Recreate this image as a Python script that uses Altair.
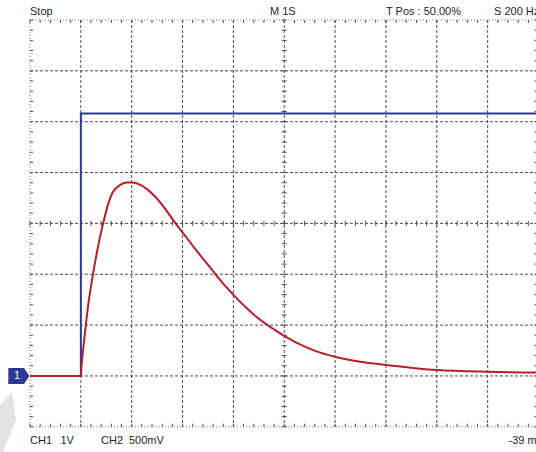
import altair as alt
import pandas as pd
import numpy as np

# CH1 (blue), 1 V/div : time [s], volts
ch1_time = [-5.0, -4.0, -4.0, 5.0]
ch1_volts = [0.0, 0.0, 5.16, 5.16]

# CH2 (red), 500 mV/div : time [s], millivolts
ch2_time = [-5.0, -4.0, -3.99, -3.95, -3.905, -3.85, -3.79, -3.72, -3.64, -3.56,
            -3.47, -3.37, -3.23, -3.11, -3.0, -2.837, -2.699, -2.542, -2.345, -2.148,
            -1.952, -1.755, -1.559, -1.362, -1.165, -1.002, -0.772, -0.542, -0.32, 0.015,
            0.31, 0.571, 0.998, 1.49, 2.015, 2.998, 3.981, 5.0]
ch2_mv = [0, 0, 77, 284, 490, 716, 913, 1119, 1326, 1503,
          1680, 1808, 1877, 1901, 1903, 1882, 1837, 1764, 1646, 1508,
          1380, 1252, 1129, 1006, 888, 800, 682, 580, 497, 390,
          310, 254, 188, 139, 107, 58, 41, 35]

CH1_V_PER_DIV = 1.0
CH2_MV_PER_DIV = 500.0

header_labels = ["Stop", "M 1S", "T Pos : 50.00%", "S 200 Hz"]
footer_labels = ["CH1", "1V", "CH2", "500mV", "-39 mV"]
channel_marker = "1"

# ---------------- layout / style ----------------
DIV = 50.85
W = 506.0
H = 8 * DIV
X0 = -5.0
X1 = X0 + W / DIV
BLUE = "#2b3a92"
RED = "#b3202a"
GRID = "#4d4d4d"
FRAME = "#7a7a7a"
TXT = "#1e1e1e"
FONT = "Liberation Sans"

xs = alt.Scale(domain=[X0, X1], nice=False, zero=False)
ys = alt.Scale(domain=[-1, 7], nice=False, zero=False)

header_x = [0, 240, 356, 464]
footer_x = [0, 30.5, 71, 99, 478.5]
header_y = -5
footer_y = H + 17.5

one = pd.DataFrame({"k": [0]})

layers = []

# faint watermark fragment (bottom-left corner of the screenshot)
wm_path = "M-0.267,-0.567L0.133,-1L0.267,-0.067L-0.167,1L-0.267,1Z"
layers.append(alt.Chart(one).mark_point(shape=wm_path, filled=True, color="#e4e4e4", opacity=1,
                                        size=3600, strokeWidth=0).encode(
    x=alt.value(-22), y=alt.value(402)))

# major grid (interior)
vgrid = pd.DataFrame({"x": list(range(-4, 5))})
hgrid = pd.DataFrame({"y": list(range(0, 7))})
layers.append(alt.Chart(vgrid).mark_rule(color=GRID, strokeDash=[3, 2], strokeWidth=1).encode(
    x=alt.X("x:Q", scale=xs, axis=None), y=alt.value(0), y2=alt.value(H)))
layers.append(alt.Chart(hgrid).mark_rule(color=GRID, strokeDash=[3, 2], strokeWidth=1).encode(
    y=alt.Y("y:Q", scale=ys, axis=None), x=alt.value(0), x2=alt.value(W)))

# frame (dotted)
layers.append(alt.Chart(one).mark_rule(color=FRAME, strokeDash=[1, 2], strokeWidth=1).encode(
    x=alt.value(0), x2=alt.value(W), y=alt.value(0)))
layers.append(alt.Chart(one).mark_rule(color=FRAME, strokeDash=[1, 2], strokeWidth=1).encode(
    x=alt.value(0), x2=alt.value(W), y=alt.value(H)))
layers.append(alt.Chart(one).mark_rule(color=FRAME, strokeDash=[1, 2], strokeWidth=1).encode(
    x=alt.value(0), y=alt.value(0), y2=alt.value(H)))

# minor ticks (every 0.2 div)
minor_x = pd.DataFrame({"x": np.round(np.arange(-5, 5.0001, 0.2), 3)})
minor_y = pd.DataFrame({"y": np.round(np.arange(-1, 7.0001, 0.2), 3)})
for y0, y1 in [(0, 3), (H - 3, H), (H / 2 - 2.5, H / 2 + 2.5)]:
    layers.append(alt.Chart(minor_x).mark_rule(color=GRID, strokeWidth=1).encode(
        x=alt.X("x:Q", scale=xs, axis=None), y=alt.value(y0), y2=alt.value(y1)))
xc = 5 * DIV
for x0, x1 in [(0, 3), (W - 1.5, W + 2), (xc - 2.5, xc + 2.5)]:
    layers.append(alt.Chart(minor_y).mark_rule(color=GRID, strokeWidth=1).encode(
        y=alt.Y("y:Q", scale=ys, axis=None), x=alt.value(x0), x2=alt.value(x1)))

# traces
ch1 = pd.DataFrame({"t": ch1_time, "v": ch1_volts, "i": list(range(len(ch1_time)))})
ch2 = pd.DataFrame({"t": ch2_time, "mv": ch2_mv, "i": list(range(len(ch2_time)))})
layers.append(alt.Chart(ch1).transform_calculate(d=f"datum.v / {CH1_V_PER_DIV}").mark_line(
    color=BLUE, strokeWidth=2, clip=True).encode(
    x=alt.X("t:Q", scale=xs, axis=None), y=alt.Y("d:Q", scale=ys, axis=None), order="i:Q"))
layers.append(alt.Chart(ch2).transform_calculate(d=f"datum.mv / {CH2_MV_PER_DIV}").mark_line(
    color=RED, strokeWidth=2, clip=True, interpolate="monotone").encode(
    x=alt.X("t:Q", scale=xs, axis=None), y=alt.Y("d:Q", scale=ys, axis=None), order="i:Q"))

# channel-1 ground marker
marker_path = "M-1,-0.76L0.5,-0.76L1,0L0.5,0.76L-1,0.76Z"
layers.append(alt.Chart(one).mark_point(shape=marker_path, filled=True, color=BLUE, opacity=1,
                                        size=441, strokeWidth=0).encode(
    x=alt.value(-11.2), y=alt.datum(0, scale=ys)))
layers.append(alt.Chart(pd.DataFrame({"s": [channel_marker]})).mark_text(
    color="white", font=FONT, fontSize=11, align="center", baseline="middle").encode(
    x=alt.value(-13), y=alt.datum(0, scale=ys), text="s:N"))

# screen texts
for lab, px in zip(header_labels, header_x):
    layers.append(alt.Chart(pd.DataFrame({"s": [lab]})).mark_text(
        color=TXT, font=FONT, fontSize=11, align="left", baseline="alphabetic").encode(
        x=alt.value(px), y=alt.value(header_y), text="s:N"))
for lab, px in zip(footer_labels, footer_x):
    layers.append(alt.Chart(pd.DataFrame({"s": [lab]})).mark_text(
        color=TXT, font=FONT, fontSize=11, align="left", baseline="alphabetic").encode(
        x=alt.value(px), y=alt.value(footer_y), text="s:N"))

chart = alt.layer(*layers).properties(
    width=W, height=H,
    autosize=alt.AutoSizeParams(type="none"),
    padding={"left": 30, "top": 20, "right": 0, "bottom": 452 - 20 - H},
    background="white",
).configure_view(stroke=None)

chart.save("out.html", embed_options={"renderer": "svg", "actions": False})
